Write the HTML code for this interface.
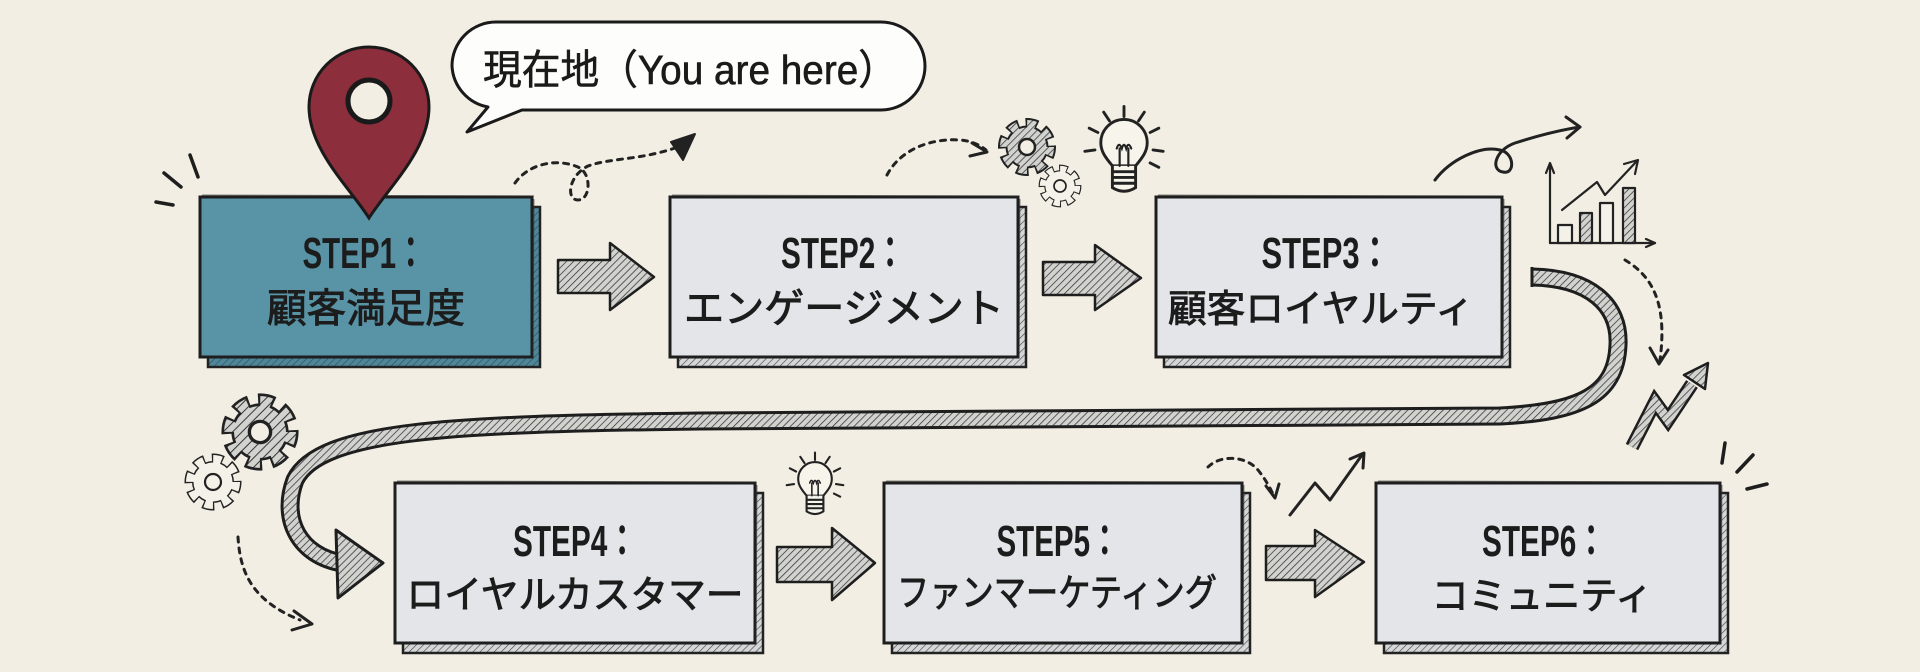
<!DOCTYPE html>
<html><head><meta charset="utf-8"><style>
html,body{margin:0;padding:0;background:#f2eee3;}
svg{display:block;}
.l1{font-family:"Liberation Sans","Noto Sans CJK JP",sans-serif;font-weight:bold;font-size:44px;fill:#1c1c1c;}
.l2{font-family:"Liberation Sans","Noto Sans CJK JP",sans-serif;font-size:38px;fill:#1c1c1c;stroke:#1c1c1c;stroke-width:0.9px;}
</style></head><body>
<svg width="1920" height="672" viewBox="0 0 1920 672" xmlns="http://www.w3.org/2000/svg">
<defs>
<pattern id="hg" width="5" height="5" patternUnits="userSpaceOnUse" patternTransform="rotate(45)"><rect width="5" height="5" fill="#d2d2cf"/><line x1="0" y1="0" x2="0" y2="5" stroke="#333" stroke-width="1.5"/></pattern>
<pattern id="hs" width="5" height="5" patternUnits="userSpaceOnUse" patternTransform="rotate(45)"><rect width="5" height="5" fill="#d4d6d7"/><line x1="0" y1="0" x2="0" y2="5" stroke="#4a4a4a" stroke-width="1.3"/></pattern>
<pattern id="ht" width="5" height="5" patternUnits="userSpaceOnUse" patternTransform="rotate(45)"><rect width="5" height="5" fill="#4f8799"/><line x1="0" y1="0" x2="0" y2="5" stroke="#2b5260" stroke-width="1.3"/></pattern>
<g id="gearH">
<circle r="22" fill="none" stroke="#222" stroke-width="14" stroke-dasharray="11 6.28" stroke-dashoffset="1.5"/>
<circle r="21.5" fill="#222"/>
<circle r="22" fill="none" stroke="url(#hg)" stroke-width="10" stroke-dasharray="8 9.28"/>
<circle r="19.5" fill="url(#hg)"/>
<circle r="8" fill="#f2eee3" stroke="#222" stroke-width="2.5"/>
</g>
<g id="gearP">
<circle r="22" fill="none" stroke="#222" stroke-width="13" stroke-dasharray="10.5 6.78" stroke-dashoffset="1.25"/>
<circle r="21" fill="#222"/>
<circle r="22" fill="none" stroke="#f4f1e8" stroke-width="10" stroke-dasharray="8 9.28"/>
<circle r="19.5" fill="#f4f1e8"/>
<circle r="8" fill="#f4f1e8" stroke="#222" stroke-width="2.2"/>
</g>
<g id="bulb" fill="none" stroke="#222" stroke-width="2" stroke-linecap="round">
<path d="M-8,13 C-13,7 -16,3 -16,-3 A16,16 0 1 1 16,-3 C16,3 13,7 8,13 Z" fill="#f7f4ec"/>
<path d="M-8,13 L-8,28 Q0,33 8,28 L8,13" fill="#f7f4ec"/>
<path d="M-8,17 L8,17 M-8,21 L8,21 M-8,25 L8,25"/>
<path d="M-3,13 L-3,1 M3,13 L3,1 M-5,1 q1.5,-5 3.5,0 q1.5,-5 3,0 q1.5,-5 3.5,0" stroke-width="1.5"/>
<path d="M0,-21 L0,-28 M10,-18 L14,-24 M-10,-18 L-14,-24 M18,-10 L24,-13 M-18,-10 L-24,-13 M20,2 L27,3 M-20,2 L-27,3 M18,11 L24,14"/>
</g>
</defs>

<rect width="1920" height="672" fill="#f2eee3"/>

<!-- big U-turn hatched band -->
<path d="M1532,277 C1590,278 1620,305 1618,345 C1616,395 1580,412 1500,416 L700,421 C450,424 320,430 295,480 C280,520 300,556 342,563" fill="none" stroke="#1e1e1e" stroke-width="19"/>
<path d="M1532,277 C1590,278 1620,305 1618,345 C1616,395 1580,412 1500,416 L700,421 C450,424 320,430 295,480 C280,520 300,556 342,563" fill="none" stroke="url(#hg)" stroke-width="13"/>
<line x1="1532" y1="267" x2="1532" y2="287" stroke="#1e1e1e" stroke-width="3"/>
<polygon points="336,530 383,563 338,598" fill="url(#hg)" stroke="#1e1e1e" stroke-width="3" stroke-linejoin="round"/>

<!-- boxes: shadows -->
<rect x="208" y="207" width="332" height="160" fill="url(#ht)" stroke="#222" stroke-width="2.5"/>
<rect x="678" y="207" width="348" height="160" fill="url(#hs)" stroke="#222" stroke-width="2.5"/>
<rect x="1164" y="207" width="346" height="160" fill="url(#hs)" stroke="#222" stroke-width="2.5"/>
<rect x="403" y="493" width="360" height="160" fill="url(#hs)" stroke="#222" stroke-width="2.5"/>
<rect x="892" y="493" width="358" height="160" fill="url(#hs)" stroke="#222" stroke-width="2.5"/>
<rect x="1384" y="493" width="344" height="160" fill="url(#hs)" stroke="#222" stroke-width="2.5"/>

<!-- boxes: main -->
<rect x="200" y="197" width="332" height="160" fill="#5893a6" stroke="#1e1e1e" stroke-width="3"/>
<rect x="670" y="197" width="348" height="160" fill="#e3e5e8" stroke="#1e1e1e" stroke-width="3"/>
<rect x="1156" y="197" width="346" height="160" fill="#e3e5e8" stroke="#1e1e1e" stroke-width="3"/>
<rect x="395" y="483" width="360" height="160" fill="#e3e5e8" stroke="#1e1e1e" stroke-width="3"/>
<rect x="884" y="483" width="358" height="160" fill="#e3e5e8" stroke="#1e1e1e" stroke-width="3"/>
<rect x="1376" y="483" width="344" height="160" fill="#e3e5e8" stroke="#1e1e1e" stroke-width="3"/>
<g fill="none" stroke="#333" stroke-width="1" opacity="0.6">
<path d="M202,195 L534,196 M534,199 L533,356"/>
<path d="M672,195 L1019,196 M1020,199 L1019,358"/>
<path d="M1158,195 L1503,196 M1504,199 L1503,358"/>
<path d="M397,481 L756,482 M757,485 L756,644"/>
<path d="M886,481 L1243,482 M1244,485 L1243,644"/>
<path d="M1378,481 L1721,482 M1722,485 L1721,644"/>
</g>

<!-- box texts -->
<text class="l1" x="364" y="268" text-anchor="middle" textLength="123" lengthAdjust="spacingAndGlyphs">STEP1：</text>
<text class="l2" x="366" y="322" text-anchor="middle" textLength="198" lengthAdjust="spacingAndGlyphs" style="font-size:40px">顧客満足度</text>
<text class="l1" x="843" y="268" text-anchor="middle" textLength="124" lengthAdjust="spacingAndGlyphs">STEP2：</text>
<text class="l2" x="844" y="322" text-anchor="middle" textLength="320" lengthAdjust="spacingAndGlyphs" style="font-size:40px">エンゲージメント</text>
<text class="l1" x="1326" y="268" text-anchor="middle" textLength="129" lengthAdjust="spacingAndGlyphs">STEP3：</text>
<text class="l2" x="1321" y="322" text-anchor="middle" textLength="306" lengthAdjust="spacingAndGlyphs">顧客ロイヤルティ</text>
<text class="l1" x="575" y="556" text-anchor="middle" textLength="124" lengthAdjust="spacingAndGlyphs">STEP4：</text>
<text class="l2" x="575" y="608" text-anchor="middle" textLength="337" lengthAdjust="spacingAndGlyphs">ロイヤルカスタマー</text>
<text class="l1" x="1058" y="556" text-anchor="middle" textLength="123" lengthAdjust="spacingAndGlyphs">STEP5：</text>
<text class="l2" x="1057" y="606" text-anchor="middle" textLength="320" lengthAdjust="spacingAndGlyphs">ファンマーケティング</text>
<text class="l1" x="1544" y="556" text-anchor="middle" textLength="124" lengthAdjust="spacingAndGlyphs">STEP6：</text>
<text class="l2" x="1542" y="609" text-anchor="middle" textLength="221" lengthAdjust="spacingAndGlyphs">コミュニティ</text>

<!-- block arrows -->
<g fill="url(#hg)" stroke="#1e1e1e" stroke-width="2.5" stroke-linejoin="round">
<polygon points="558,260 610,260 610,243 654,277 610,310 610,293 558,293"/>
<polygon points="1043,262 1095,262 1095,245 1141,278 1095,310 1095,295 1043,295"/>
<polygon points="777,547 832,547 832,528 875,563 832,600 832,582 777,582"/>
<polygon points="1266,546 1315,546 1315,530 1364,562 1315,597 1315,580 1266,580"/>
</g>

<!-- pin -->
<path d="M369,218 C350,188 309,150 309,107 A60,60 0 1,1 429,107 C429,150 388,188 369,218 Z" fill="#8c2e3c" stroke="#1a1a1a" stroke-width="3"/>
<circle cx="369" cy="101" r="21" fill="#f2eee3" stroke="#1a1a1a" stroke-width="5"/>

<!-- speech bubble -->
<path d="M522,110 L881,110 A44,44 0 0 0 925,66 A44,44 0 0 0 881,22 L496,22 A44,44 0 0 0 452,66 A44,44 0 0 0 488,107 L467,132 Z" fill="#fdfdfb" stroke="#1a1a1a" stroke-width="3" stroke-linejoin="round"/>
<text x="483" y="84" textLength="414" lengthAdjust="spacingAndGlyphs" style="font-family:'Liberation Sans','Noto Sans CJK JP',sans-serif;font-size:41px;fill:#1a1a1a;stroke:#1a1a1a;stroke-width:0.6px">現在地（You are here）</text>

<!-- sparkles -->
<g stroke="#1e1e1e" stroke-width="3.5" stroke-linecap="round" fill="none">
<line x1="190" y1="155" x2="198" y2="177"/>
<line x1="164" y1="173" x2="181" y2="187"/>
<line x1="156" y1="202" x2="173" y2="205"/>
<line x1="1725" y1="443" x2="1722" y2="463"/>
<line x1="1753" y1="455" x2="1737" y2="472"/>
<line x1="1747" y1="489" x2="1767" y2="484"/>
</g>

<!-- dotted arrows -->
<g fill="none" stroke="#222" stroke-width="3" stroke-linecap="round" stroke-dasharray="5 6">
<path d="M515,183 C530,162 560,158 580,168 C592,176 590,200 578,200 C566,200 568,176 588,166 C610,158 640,160 675,148"/>
<path d="M887,175 C900,150 930,138 960,140 C972,141 980,145 986,150"/>
<path d="M1625,260 C1650,275 1668,300 1660,360"/>
<path d="M1208,467 C1220,455 1245,455 1258,470 C1266,480 1270,488 1274,496"/>
<path d="M238,537 C240,570 250,600 300,620"/>
</g>
<polygon points="695,134 671,142 683,160" fill="#222" stroke="#222" stroke-width="2" stroke-linejoin="round"/>
<g fill="none" stroke="#222" stroke-width="3" stroke-linecap="round" stroke-linejoin="round">
<polyline points="972,143 987,152 970,156"/>
<polyline points="1650,348 1659,364 1668,350"/>
<polyline points="1266,486 1275,498 1279,484"/>
<polyline points="294,611 312,624 292,630"/>
<!-- curly arrow -->
<path d="M1435,180 C1450,160 1480,145 1500,150 C1515,153 1515,175 1503,172 C1490,170 1495,150 1515,143 C1540,135 1560,130 1580,127"/>
<polyline points="1566,117 1580,127 1567,138"/>
<!-- thin zigzag arrow -->
<polyline points="1290,515 1315,483 1330,500 1362,455"/>
<polyline points="1350,459 1364,453 1363,468"/>
</g>

<!-- chart -->
<g fill="none" stroke="#222" stroke-width="2.2" stroke-linecap="round" stroke-linejoin="round">
<line x1="1550" y1="243" x2="1550" y2="165"/>
<polyline points="1546,173 1550,163 1554,173"/>
<line x1="1550" y1="243" x2="1655" y2="243"/>
<polyline points="1646,239 1655,243 1646,247"/>
<rect x="1558" y="225" width="14" height="18" fill="#f4f1e8"/>
<rect x="1580" y="213" width="12" height="30" fill="url(#hg)"/>
<rect x="1600" y="203" width="13" height="40" fill="#f4f1e8"/>
<rect x="1623" y="188" width="12" height="55" fill="url(#hg)"/>
<polyline points="1562,210 1597,182 1605,195 1636,162"/>
<polyline points="1624,164 1638,160 1635,174"/>
</g>

<!-- hatched zigzag arrow -->
<polyline points="1632,447 1655,402 1668,420 1692,384" fill="none" stroke="#1e1e1e" stroke-width="14" stroke-linejoin="miter"/>
<polyline points="1632,447 1655,402 1668,420 1692,384" fill="none" stroke="url(#hg)" stroke-width="9" stroke-linejoin="miter"/>
<polygon points="1708,363 1705,389 1684,375" fill="url(#hg)" stroke="#1e1e1e" stroke-width="2.5" stroke-linejoin="round"/>

<!-- gears -->
<use href="#gearH" transform="translate(1027,147)"/>
<use href="#gearP" transform="translate(1060,186) scale(0.75)"/>
<use href="#gearH" transform="translate(260,432) scale(1.33)"/>
<use href="#gearP" transform="translate(213,482) scale(1.0)"/>

<!-- bulbs -->
<use href="#bulb" transform="translate(1124,147) scale(1.45)"/>
<use href="#bulb" transform="translate(815,482) scale(1.05)"/>
</svg>
</body></html>
